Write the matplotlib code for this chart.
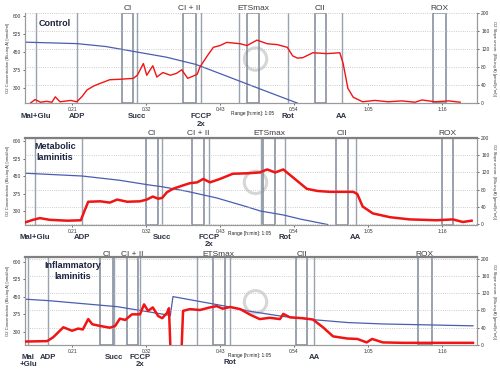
import matplotlib.pyplot as plt
from matplotlib.patches import Rectangle
from matplotlib.transforms import blended_transform_factory

plt.rcParams['font.family'] = ['Liberation Sans', 'DejaVu Sans']

# time axis in minutes
time_ticks = [21, 32, 43, 54, 65, 76]
time_labels = ['0:21', '0:32', '0:43', '0:54', '1:05', '1:16']
conc_ticks = [300, 375, 450, 525, 600]
flux_ticks = [0, 40, 80, 120, 160, 200]

# --- Control ---
ctrl_o2_t = [14, 21.7, 26, 30.7, 35, 39.4, 43, 47.5, 51, 54.5]
ctrl_o2 = [490, 484, 472, 449, 428, 398, 360, 312, 275, 238]
ctrl_flux_t = [14.8, 15.5, 16.3, 17.2, 18.0, 18.5, 19.2, 20.3, 20.8, 21.7, 22.5, 23.2, 24.2,
               25.2, 26.6, 28.1, 30.1, 30.7, 31.6, 32.1, 33.0, 33.6, 34.5, 35.6, 36.5, 37.3,
               38.2, 39.6, 40.0, 41.1, 42.0, 43.0, 44.0, 46.0, 47.0, 48.5, 50.0, 51.5, 53.0,
               53.8, 54.5, 55.3, 56.8, 58.9, 60.8, 61.3, 62.0, 62.8, 64.2, 66, 68, 70, 72,
               73, 75, 77, 78.7]
ctrl_flux = [0, 8, 2, 4, 2, 14, 3, 5, 6, 3, 15, 29, 38,
             44, 52, 53, 55, 62, 88, 62, 83, 58, 68, 62, 66, 74,
             55, 64, 80, 105, 124, 128, 135, 132, 128, 140, 132, 130, 124,
             105, 100, 101, 112, 110, 112, 88, 33, 13, 3, 6, 3, 5, 2,
             7, 3, 5, 2]
ctrl_marks = ['Mal+Glu', 'ADP', 'Succ', 'FCCP\n2x', '', 'Rot', 'AA']
ctrl_mark_t = [15.65, 21.7, 30.7, 40.2, 45.8, 53.1, 61.1]
ctrl_boxes = ['CI', 'CI + II', 'ETSmax', 'CII', 'ROX']
ctrl_box_start = [28.4, 37.5, 47.0, 57.1, 74.6]
ctrl_box_end = [30.1, 39.4, 48.8, 58.7, 76.6]

# --- Metabolic laminitis ---
meta_o2_t = [14, 22.5, 28, 32.6, 34.4, 38, 42.5, 47, 49, 52.4, 55, 59]
meta_o2 = [462, 450, 432, 411, 404, 385, 356, 318, 300, 283, 265, 242]
meta_flux_t = [14.0, 15.2, 16.2, 17.7, 20.3, 22.3, 22.9, 23.4, 25.2, 26.6, 27.7, 29.2,
               31.1, 32.1, 33.0, 33.8, 34.4, 35.1, 36.0, 37.3, 38.5, 39.6, 40.5, 41.5,
               43.0, 44.9, 47.0, 48.9, 50.0, 51.2, 52.4, 53.8, 55.9, 57.5, 59.3, 62.8,
               63.4, 64.2, 65.7, 68.3, 71.2, 75.2, 77.6, 79.1, 80.4]
meta_flux = [4, 10, 14, 10, 8, 9, 33, 52, 53, 50, 57, 52,
             53, 57, 64, 59, 61, 74, 82, 89, 95, 97, 105, 97,
             105, 117, 118, 120, 127, 120, 127, 109, 82, 77, 75, 75,
             70, 41, 25, 16, 11, 9, 11, 5, 8]
meta_marks = ['Mal+Glu', 'ADP', 'Succ', 'FCCP\n2x', '', 'Rot', 'AA']
meta_mark_t = [15.5, 22.5, 34.4, 41.4, 49.1, 52.7, 63.2]
meta_boxes = ['CI', 'CI + II', 'ETSmax', 'CII', 'ROX']
meta_box_start = [32.0, 38.8, 49.4, 60.2, 76.0]
meta_box_end = [33.8, 40.6, 51.2, 62.0, 77.6]

# --- Inflammatory laminitis ---
infl_o2_t = [14, 17.4, 27.7, 35.1, 35.6, 36.0, 44.2, 47.5, 52.4, 57.4, 62, 67.2, 74, 80.6]
infl_o2 = [440, 434, 408, 373, 369, 451, 408, 388, 366, 351, 340, 334, 330, 326]
infl_flux_t = [14.0, 17.3, 18.2, 19.7, 21.0, 21.9, 22.6, 23.4, 24.0, 25.2, 26.6, 27.4,
               28.1, 28.9, 29.9, 31.1, 31.7, 32.3, 33.0, 33.8, 34.4, 35.1, 35.4, 35.7,
               37.2, 37.5, 38.5, 40, 41.5, 42.5, 43.4, 44.5, 46.0, 47.5, 48.9, 50.4,
               51.9, 52.4, 53.4, 55.3, 56.8, 58.3, 59.8, 61.9, 63.4, 64.8, 65.6, 67.2,
               70.2, 75, 80.6]
infl_flux = [8, 9, 18, 41, 33, 38, 36, 60, 48, 44, 40, 44,
             61, 58, 71, 71, 94, 79, 87, 67, 62, 74, 85, -40,
             -40, 79, 83, 81, 87, 90, 84, 88, 83, 70, 60, 63,
             60, 72, 64, 62, 59, 41, 20, 15, 14, 6, 14, 6,
             5, 5, 5]
infl_marks = ['Mal\n+Glu', 'ADP', 'Succ', 'FCCP\n2x', '', 'Rot', 'AA']
infl_mark_t = [14.5, 17.4, 27.2, 31.1, 39.6, 44.5, 57.0]
infl_boxes = ['CI', 'CI + II', 'ETSmax', 'CII', 'ROX']
infl_box_start = [25.2, 29.2, 41.9, 54.3, 72.4]
infl_box_end = [27.1, 30.8, 43.7, 55.9, 74.5]

W, H = 500, 375
fig = plt.figure(figsize=(5, 3.75), dpi=100)


def fy(py):
    return 1 - py / H


def draw_panel(rect, title, title_xy, o2_t, o2, flux_t, flux, marks, mark_t,
               boxes, b0, b1, conc_lim, flux_lim, top_y, bot_y, range_xy, flux_lw,
               mark_y_fix=None):
    ax = fig.add_axes(rect)
    ax.set_xlim(14, 81.2)
    ax.set_ylim(*conc_lim)
    ax2 = ax.twinx()
    ax2.set_ylim(*flux_lim)

    blend = blended_transform_factory(ax.transData, ax.transAxes)
    blend_fig = blended_transform_factory(ax.transData, fig.transFigure)

    for t in mark_t:
        ax.axvline(t, color='#98a2b0', lw=1.0, zorder=1)
    for name, s, e in zip(boxes, b0, b1):
        ax.add_patch(Rectangle((s, 0), e - s, 1, transform=blend, fill=False,
                               ec='#7c8797', lw=1.1, zorder=1))
        ax.text((s + e) / 2, fy(top_y), name, transform=blend_fig, ha='center',
                va='center', fontsize=6, color='#3a3a3a')

    for name, t in zip(marks, mark_t):
        if not name:
            continue
        y = bot_y
        if mark_y_fix and name in mark_y_fix:
            y = mark_y_fix[name]
        ax.text(t, fy(y - 4), name, transform=blend_fig, ha='center', va='top',
                fontsize=5.6, fontweight='bold', color='#2a3042', linespacing=1.1)

    # watermark logo
    ax.scatter([0.51], [0.49], s=260, transform=ax.transAxes, facecolors='none',
               edgecolors='#d6d6d6', lw=2.2, zorder=0)

    ax.plot(o2_t, o2, color='#4a5db0', lw=0.9, zorder=3)
    ax2.plot(flux_t, flux, color='#f01414', lw=flux_lw, zorder=4,
             solid_joinstyle='round')

    ax2.set_yticks(flux_ticks)
    ax2.yaxis.grid(True, linestyle=':', color='#bdbdbd', lw=0.6)
    ax2.set_axisbelow(True)
    ax.set_yticks(conc_ticks)
    ax.set_xticks(time_ticks, time_labels)
    ax.tick_params(labelsize=3.5, length=1.5, width=0.5, pad=1.5, colors='#333333')
    ax2.tick_params(labelsize=3.5, length=1.5, width=0.5, pad=1.5, colors='#333333')

    ax.set_ylabel('O2 Concentration (Blu-ing A) [nmol/ml]', fontsize=3, labelpad=1.5,
                  color='#333333')
    ax2.set_ylabel('O2 Slope uncorr. (Blu-ing A) [pmol/(s*ml)]', fontsize=3,
                   rotation=270, labelpad=5, color='#333333')

    for a in (ax, ax2):
        for sp in a.spines.values():
            sp.set_color('#9a9a9a')
            sp.set_linewidth(0.8)

    fig.text(title_xy[0] / W, fy(title_xy[1]), title, ha='center', va='center',
             fontsize=6.5, fontweight='bold', color='#1c2541', linespacing=1.2)
    fig.text(range_xy[0] / W, fy(range_xy[1]), 'Range [h:min]: 1:05', ha='center',
             va='center', fontsize=3.5, color='#222222')
    return ax, ax2


a1, b1 = draw_panel([0.05, 0.725, 0.904, 0.24], 'Control', (55, 24),
                    ctrl_o2_t, ctrl_o2, ctrl_flux_t, ctrl_flux, ctrl_marks, ctrl_mark_t,
                    ctrl_boxes, ctrl_box_start, ctrl_box_end, (238, 610), (0, 200),
                    8, 117, (253, 113), 1.0)
a1.spines['top'].set_visible(False)
b1.spines['top'].set_visible(False)

a2, b2 = draw_panel([0.05, 0.40, 0.904, 0.232], 'Metabolic\nlaminitis', (55, 152),
                    meta_o2_t, meta_o2, meta_flux_t, meta_flux, meta_marks, meta_mark_t,
                    meta_boxes, meta_box_start, meta_box_end, (240, 613), (-2, 200),
                    134, 238, (250, 234), 1.8)
b2.spines['top'].set_color('#808080')
b2.spines['top'].set_linewidth(1.6)

a3, b3 = draw_panel([0.05, 0.08, 0.904, 0.235], 'Inflammatory\nlaminitis', (73, 271),
                    infl_o2_t, infl_o2, infl_flux_t, infl_flux, infl_marks, infl_mark_t,
                    infl_boxes, infl_box_start, infl_box_end, (244, 621), (0, 204),
                    254, 358, (250, 356), 1.8, mark_y_fix={'Rot': 363})
b3.spines['top'].set_color('#808080')
b3.spines['top'].set_linewidth(1.6)

fig.savefig('out.png', dpi=100)
